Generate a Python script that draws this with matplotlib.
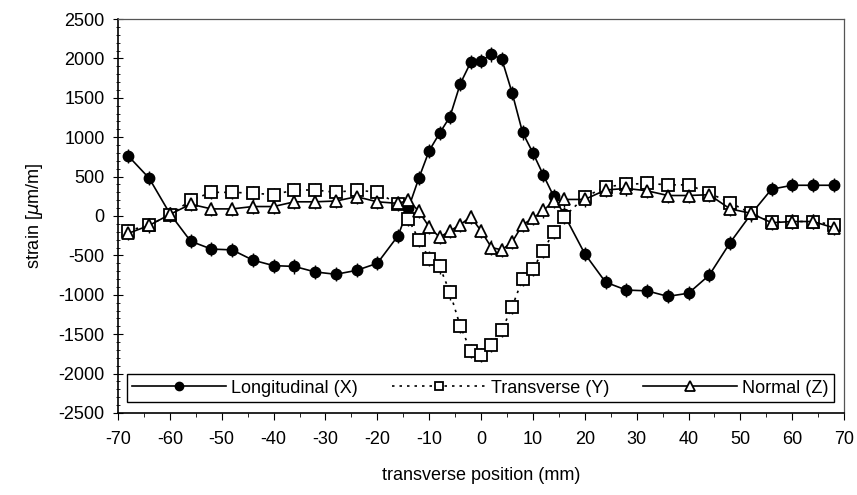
import matplotlib
matplotlib.use("Agg")
import matplotlib.pyplot as plt
from matplotlib.ticker import MultipleLocator

plt.rcParams['font.family'] = ['Liberation Sans', 'DejaVu Sans']
plt.rcParams['mathtext.fontset'] = 'dejavusans'
plt.rcParams['axes.unicode_minus'] = False

# transverse position (mm)
position = [-68, -64, -60, -56, -52, -48, -44, -40, -36, -32, -28, -24, -20,
            -16, -14, -12, -10, -8, -6, -4, -2, 0, 2, 4, 6, 8, 10, 12, 14, 16,
            20, 24, 28, 32, 36, 40, 44, 48, 52, 56, 60, 64, 68]

# strain (um/m)
longitudinal = [760, 480, 30, -320, -420, -430, -560, -630, -640, -710, -740, -690, -600,
                -250, 100, 480, 830, 1050, 1260, 1680, 1950, 1970, 2050, 1990, 1560, 1060, 800, 520, 250, 20,
                -480, -840, -940, -950, -1020, -980, -750, -340, 20, 340, 390, 390, 390]
transverse = [-190, -110, 10, 200, 300, 300, 290, 270, 330, 330, 300, 330, 300,
              150, -40, -300, -540, -640, -970, -1400, -1710, -1760, -1640, -1450, -1150, -800, -670, -440, -200, -10,
              240, 370, 400, 415, 395, 395, 290, 170, 35, -80, -70, -70, -110]
normal = [-220, -120, 20, 150, 90, 90, 120, 120, 180, 180, 190, 245, 180,
          160, 200, 60, -140, -270, -190, -110, -10, -190, -400, -430, -330, -110, -30, 70, 190, 210,
          210, 330, 350, 320, 260, 260, 270, 90, 35, -85, -70, -70, -150]

ERR = 90  # measurement uncertainty shown as small vertical bars

fig = plt.figure(figsize=(8.57, 4.95), dpi=100)
ax = fig.add_axes([0.1377, 0.1657, 0.8473, 0.7959])

common = dict(yerr=ERR, color='black', ecolor='black', elinewidth=1.0, capsize=0)
c1 = ax.errorbar(position, longitudinal, fmt='-o', lw=1.2, ms=7.5,
                 mfc='black', mec='black', **common)
c2 = ax.errorbar(position, transverse, fmt='s', ls=(0, (1.5, 3)), lw=1.2, ms=8,
                 mfc='white', mec='black', mew=1.3, **common)
c3 = ax.errorbar(position, normal, fmt='-^', lw=1.2, ms=9,
                 mfc='white', mec='black', mew=1.3, **common)

ax.set_xlim(-70, 70)
ax.set_ylim(-2500, 2500)
ax.xaxis.set_major_locator(MultipleLocator(10))
ax.xaxis.set_minor_locator(MultipleLocator(5))
ax.yaxis.set_major_locator(MultipleLocator(500))
ax.yaxis.set_minor_locator(MultipleLocator(100))
ax.tick_params(axis='x', which='major', direction='out', length=5, labelsize=13, pad=8)
ax.tick_params(axis='x', which='minor', direction='out', length=3)
ax.tick_params(axis='y', which='major', direction='inout', length=7, labelsize=13, pad=6)
ax.tick_params(axis='y', which='minor', direction='inout', length=3)

for side in ['left', 'bottom']:
    ax.spines[side].set_linewidth(1.2)
for side in ['top', 'right']:
    ax.spines[side].set_color('#555555')
    ax.spines[side].set_linestyle((0, (2, 1)))
    ax.spines[side].set_linewidth(0.9)

ax.set_xlabel('transverse position (mm)', fontsize=13, labelpad=14)
ax.set_ylabel(r'strain [$\mu$m/m]', fontsize=13, labelpad=10)

# legend from the plain data lines, without the error bars
handles = [c1[0], c2[0], c3[0]]
labels = ['Longitudinal (X)', 'Transverse (Y)', 'Normal (Z)']
leg = ax.legend(handles, labels, loc='lower left', bbox_to_anchor=(0.012, 0.028),
                ncol=3, fontsize=13, handlelength=5.2, markerscale=0.8,
                handletextpad=0.3, columnspacing=1.85, borderpad=0.3, borderaxespad=0,
                fancybox=False, framealpha=1, edgecolor='black')
leg.get_frame().set_linewidth(1.0)

fig.savefig('out.png', dpi=100)
